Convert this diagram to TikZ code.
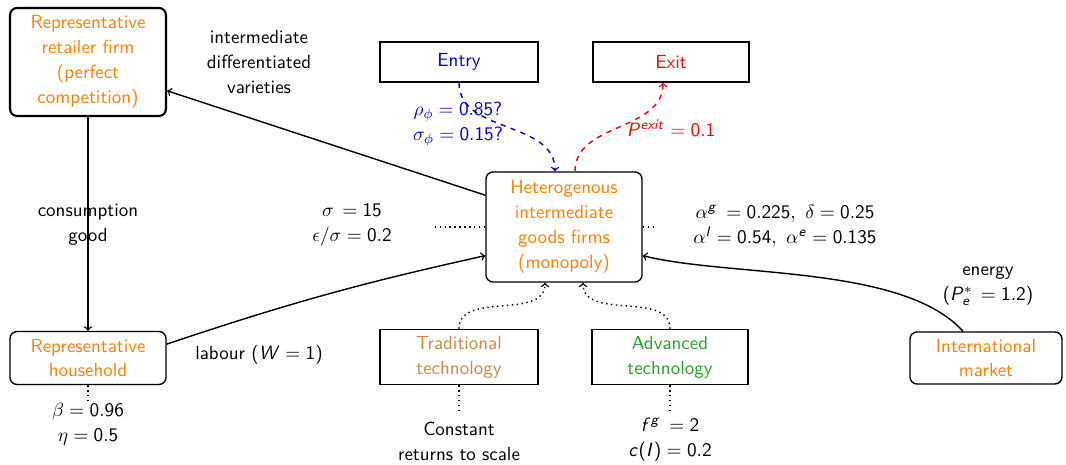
\documentclass[tikz,border=0pt]{standalone}
\renewcommand\familydefault{\sfdefault}
% sans math: Latin letters slanted sans, digits and signs upright sans
\DeclareSymbolFont{sfletters}{OT1}{cmss}{m}{sl}
\SetSymbolFont{operators}{normal}{OT1}{cmss}{m}{n}
\makeatletter
\@tempcnta=`a
\loop
  \mathcode\@tempcnta=\numexpr"7000+\symsfletters*"100+\@tempcnta\relax
  \advance\@tempcnta by 1
\ifnum\@tempcnta<123 \repeat
\@tempcnta=`A
\loop
  \mathcode\@tempcnta=\numexpr"7000+\symsfletters*"100+\@tempcnta\relax
  \advance\@tempcnta by 1
\ifnum\@tempcnta<91 \repeat
\makeatother
\usetikzlibrary{positioning}
\definecolor{tradcol}{RGB}{205,135,70}
\definecolor{advcol}{RGB}{40,160,40}

\begin{document}
\begin{tikzpicture}[x=0.02cm, y=-0.02cm, semithick, font=\fontsize{10.8}{14.2}\selectfont,
  firm/.style = {draw, thick, rounded corners=4pt, align=center, text=orange, minimum width=3.12cm},
  tech/.style = {draw, thick, align=center, minimum width=3.16cm},
  flow/.style = {->, thick},
  lbl/.style = {align=center}]
\useasboundingbox (0,0) rectangle (1066,465);
% boxes
\node[firm, very thick, minimum height=2.16cm] (ret) at (88,62) {Representative\\retailer firm\\(perfect\\competition)};
\node[firm, minimum height=2.2cm] (het) at (564,227) {Heterogenous\\intermediate\\goods firms\\(monopoly)};
\node[firm, minimum height=1.06cm] (hh) at (88,358) {Representative\\household};
\node[firm, minimum width=3.04cm, minimum height=1.04cm] (intl) at (986,358) {International\\market};
\node[tech, minimum height=0.8cm, text=blue!85!black] (entry) at (459,62) {Entry};
\node[tech, minimum width=3.12cm, minimum height=0.8cm, text=red] (exit) at (671,62) {Exit};
\node[tech, minimum height=1.1cm, text=tradcol] (trad) at (459,357) {Traditional\\technology};
\node[tech, minimum width=3.12cm, minimum height=1.1cm, text=advcol] (adv) at (670,357) {Advanced\\technology};
% labels
\node[lbl] (varieties) at (259,62) {intermediate\\differentiated\\varieties};
\node[lbl] (cons) at (88,225) {consumption\\good};
\node[lbl] (sigma) at (352,225) {$\sigma\,=15$\\$\epsilon/\sigma=0.2$};
\node[lbl] (alpha) at (785,226) {$\alpha^{g}\,=0.225,\ \delta=0.25$\\$\alpha^{l}=0.54,\ \alpha^{e}=0.135$};
\node[lbl] (energy) at (988,286) {energy\\($P^{*}_{e}\,=1.2$)};
\node[lbl] (labour) at (259,355) {labour ($W=1$)};
\node[lbl, text=blue!85!black] (rho) at (458,124) {$\rho_{\phi}=0.85?$\\$\sigma_{\phi}=0.15?$};
\node[lbl, text=red] (pexit) at (671,128) {$P^{exit}=0.1$};
\node[lbl] (beta) at (88,424) {$\beta=0.96$\\$\eta=0.5$};
\node[lbl] (crs) at (459,441) {Constant\\returns to scale};
\node[lbl] (fg) at (670,440) {$f^{g}\,=2$\\$c(I)=0.2$};
% ends of the dotted stubs
\coordinate (hetw) at (432,227);
\coordinate (hete) at (656,227);
\coordinate (hhs) at (88,400);
\coordinate (trads) at (459,412);
\coordinate (advs) at (670,413);
% connectors
\draw[flow] (ret) -- (hh);
\draw[flow] (het.158) -- (ret.-20);
\draw[flow] (hh.10) to[bend left=3] (het.-160);
\draw[flow] ([xshift=-0.46cm]intl.north) to[out=132, in=-14, looseness=0.7] (het.-20);
\draw[flow, dashed, blue!85!black] (entry) to[out=-90, in=90] ([xshift=-0.18cm]het.north);
\draw[flow, dashed, red] ([xshift=0.22cm]het.north) to[out=90, in=-90] ([xshift=-0.16cm]exit.south);
\draw[flow, dotted] (trad) to[out=90, in=-90] ([xshift=-0.38cm]het.south);
\draw[flow, dotted] (adv) to[out=90, in=-90] ([xshift=0.38cm]het.south);
\draw[thick, dotted] (het) -- (hetw);
\draw[thick, dotted] (het) -- (hete);
\draw[thick, dotted] (hh) -- (hhs);
\draw[thick, dotted] (trad) -- (trads);
\draw[thick, dotted] (adv) -- (advs);
\end{tikzpicture}
\end{document}
